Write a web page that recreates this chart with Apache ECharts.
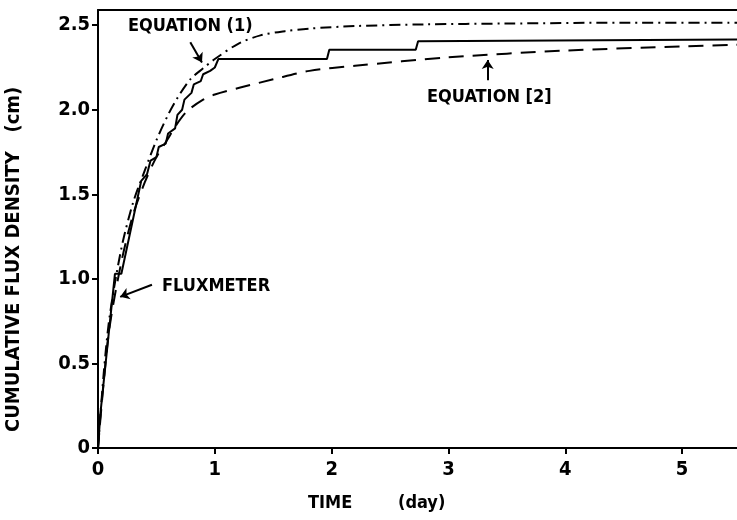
<!DOCTYPE html>
<html>
<head>
<meta charset="utf-8">
<script src="https://cdn.jsdelivr.net/npm/echarts@6/dist/echarts.min.js"></script>
<style>
  html, body { margin: 0; padding: 0; background: #fff; }
  #main { width: 737px; height: 520px; }
</style>
</head>
<body>
<div id="main"></div>
<script>
// fluxmeter (solid staircase)
var fluxX = [0, 0.02, 0.145, 0.2, 0.37, 0.42, 0.45, 0.5, 0.52, 0.58, 0.6, 0.66, 0.68, 0.72, 0.74, 0.8, 0.82, 0.88, 0.9, 0.96, 1.0, 1.03, 1.96, 1.98, 2.72, 2.74, 5.47]
var fluxY = [0, 0.2, 1.03, 1.03, 1.58, 1.62, 1.70, 1.72, 1.78, 1.80, 1.86, 1.89, 1.97, 2.0, 2.06, 2.1, 2.15, 2.17, 2.21, 2.23, 2.25, 2.30, 2.30, 2.355, 2.355, 2.405, 2.415]

// equation (1) dash-dot
var eq1X = [0, 0.05, 0.1, 0.2, 0.3, 0.4, 0.5, 0.6, 0.68, 0.79, 0.9, 1.0, 1.2, 1.39, 1.6, 1.81, 2.2, 2.8, 3.5, 4.5, 5.47]
var eq1Y = [0, 0.45, 0.78, 1.18, 1.45, 1.64, 1.82, 1.97, 2.07, 2.18, 2.245, 2.30, 2.39, 2.44, 2.465, 2.48, 2.495, 2.505, 2.51, 2.515, 2.515]

// equation [2] dashed
var eq2X = [0, 0.05, 0.1, 0.2, 0.3, 0.4, 0.5, 0.6, 0.66, 0.76, 0.9, 1.0, 1.21, 1.5, 1.81, 2.2, 3.0, 4.0, 5.0, 5.47]
var eq2Y = [0, 0.4, 0.72, 1.1, 1.38, 1.57, 1.72, 1.83, 1.9, 1.99, 2.06, 2.09, 2.13, 2.18, 2.23, 2.26, 2.31, 2.35, 2.375, 2.385]

var xTicks = [0, 1, 2, 3, 4, 5]
var yTicks = [0, 0.5, 1.0, 1.5, 2.0, 2.5]

function pairs(xs, ys) {
  return xs.map(function (x, i) { return [x, ys[i]] })
}

var font = '"DejaVu Sans Condensed"'
var txt = 'bold 18px ' + font
var chart = echarts.init(document.getElementById('main'))

var arrowStyle = { color: '#000', width: 2, type: 'solid' }

chart.setOption({
  backgroundColor: '#fff',
  animation: false,
  grid: { left: 98, right: 0, top: 10, bottom: 72 },
  xAxis: [{
    type: 'value', min: 0, max: 5.47, interval: 1,
    axisLine: { show: true, onZero: false, lineStyle: { color: '#000', width: 2 } },
    axisTick: { show: true, length: 6, customValues: xTicks, lineStyle: { color: '#000', width: 2 } },
    axisLabel: {
      color: '#000', fontFamily: 'DejaVu Sans Condensed', fontWeight: 'bold', fontSize: 20, margin: 12,
      customValues: xTicks,
      formatter: function (v) { return String(v) }
    },
    splitLine: { show: false }
  }, {
    type: 'value', position: 'top', min: 0, max: 5.47,
    axisLine: { show: true, onZero: false, lineStyle: { color: '#000', width: 2 } },
    axisTick: { show: false }, axisLabel: { show: false }, splitLine: { show: false }
  }],
  yAxis: {
    type: 'value', min: 0, max: 2.59, interval: 0.5,
    axisLine: { show: true, onZero: false, lineStyle: { color: '#000', width: 2 } },
    axisTick: { show: true, length: 6, customValues: yTicks, lineStyle: { color: '#000', width: 2 } },
    axisLabel: {
      color: '#000', fontFamily: 'DejaVu Sans Condensed', fontWeight: 'bold', fontSize: 20, margin: 8,
      customValues: yTicks,
      formatter: function (v) { return v === 0 ? '0' : v.toFixed(1) }
    },
    splitLine: { show: false }
  },
  series: [
    {
      name: 'FLUXMETER', type: 'line', data: pairs(fluxX, fluxY),
      symbol: 'none', lineStyle: { color: '#000', width: 2 },
      markLine: {
        silent: true, symbol: ['none', 'arrow'], symbolSize: 9,
        label: { show: false }, lineStyle: arrowStyle,
        data: [
          [{ coord: [0.462, 0.965] }, { coord: [0.19, 0.894] }],
          [{ coord: [0.79, 2.40] }, { coord: [0.89, 2.28] }],
          [{ coord: [3.336, 2.175] }, { coord: [3.336, 2.295] }]
        ]
      }
    },
    {
      name: 'EQUATION (1)', type: 'line', data: pairs(eq1X, eq1Y), smooth: 0.3,
      symbol: 'none', lineStyle: { color: '#000', width: 2, type: [11, 5, 2, 5] }
    },
    {
      name: 'EQUATION [2]', type: 'line', data: pairs(eq2X, eq2Y), smooth: 0.3,
      symbol: 'none', lineStyle: { color: '#000', width: 2, type: [15, 9] }
    }
  ],
  graphic: [
    { type: 'text', left: 128, top: 17, style: { text: 'EQUATION (1)', fill: '#000', font: txt } },
    { type: 'text', left: 427, top: 88, style: { text: 'EQUATION [2]', fill: '#000', font: txt } },
    { type: 'text', left: 162, top: 277, style: { text: 'FLUXMETER', fill: '#000', font: txt } },
    { type: 'text', left: 308, top: 494, style: { text: 'TIME', fill: '#000', font: txt } },
    { type: 'text', left: 398, top: 494, style: { text: '(day)', fill: '#000', font: txt } },
    {
      type: 'text', x: 4, y: 432, rotation: Math.PI / 2,
      style: { text: 'CUMULATIVE FLUX DENSITY   (cm)', fill: '#000', font: 'bold 20px ' + font, textVerticalAlign: 'top' }
    }
  ]
})
</script>
</body>
</html>
